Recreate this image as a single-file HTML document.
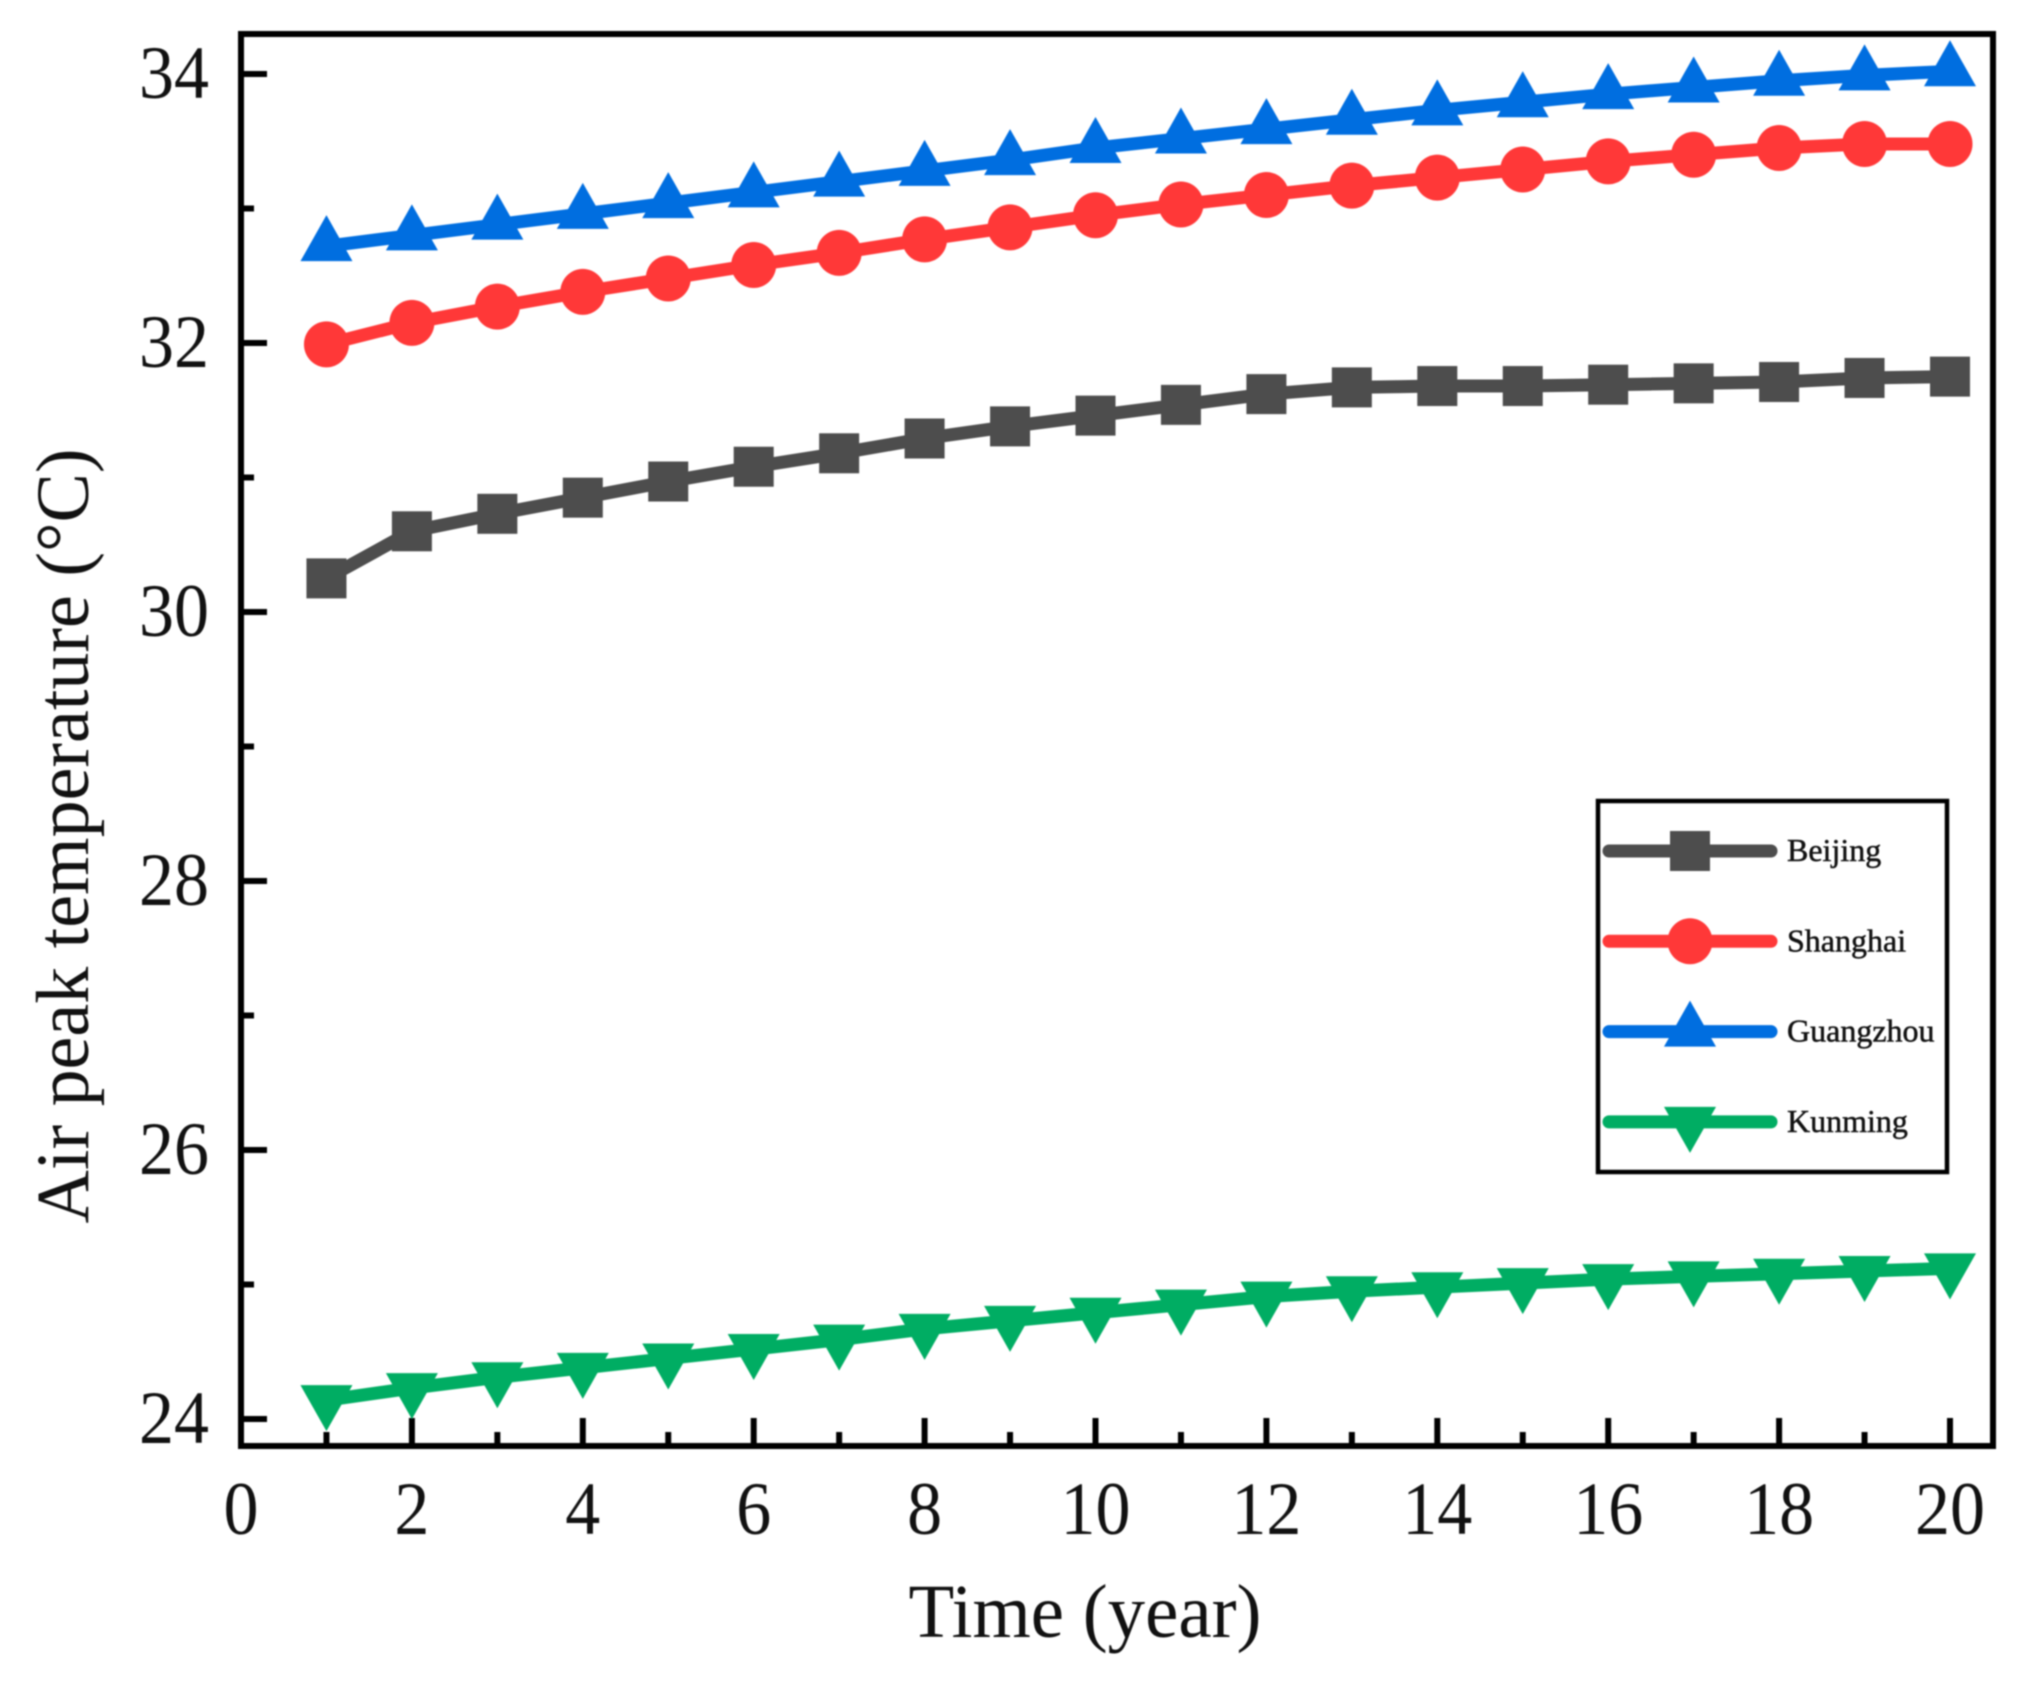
<!DOCTYPE html>
<html lang="en">
<head>
<meta charset="utf-8">
<title>Air peak temperature over time</title>
<style>
  html, body { margin: 0; padding: 0; background: #fff; }
  body { width: 2025px; height: 1682px; overflow: hidden; }
  svg { display: block; filter: blur(0.8px); }
  text { font-family: "Liberation Serif", serif; fill: #111; }
</style>
</head>
<body>
<svg id="chart" xmlns="http://www.w3.org/2000/svg" width="2025" height="1682" viewBox="0 0 2025 1682">
  <rect x="0" y="0" width="2025" height="1682" fill="#fff"/>
  <g id="ticks"></g>
  <g id="tick-labels"></g>
  <text transform="translate(88 836) rotate(-90)" text-anchor="middle" font-size="75" textLength="775" lengthAdjust="spacingAndGlyphs">Air peak temperature (°C)</text>
  <text x="1085" y="1637" text-anchor="middle" font-size="76" textLength="353" lengthAdjust="spacingAndGlyphs">Time (year)</text>
  <g id="series"></g>
  <rect x="241" y="34" width="1752" height="1412" fill="none" stroke="#000" stroke-width="6"/>
  <rect x="1598" y="801" width="349" height="371" fill="#fff" stroke="#000" stroke-width="4.5"/>
  <g id="legend"></g>
</svg>
<script>
const years = [1,2,3,4,5,6,7,8,9,10,11,12,13,14,15,16,17,18,19,20];
const beijing = [30.25,30.6,30.73,30.85,30.97,31.08,31.18,31.29,31.38,31.46,31.54,31.62,31.67,31.68,31.68,31.69,31.7,31.71,31.74,31.75];
const shanghai = [31.99,32.15,32.27,32.38,32.48,32.58,32.67,32.77,32.86,32.95,33.03,33.1,33.17,33.23,33.29,33.35,33.4,33.45,33.48,33.48];
const guangzhou = [32.72,32.8,32.88,32.96,33.04,33.12,33.2,33.28,33.36,33.45,33.52,33.59,33.66,33.73,33.79,33.85,33.9,33.95,33.99,34.02];
const kunming = [24.14,24.23,24.31,24.38,24.45,24.52,24.59,24.67,24.73,24.79,24.85,24.91,24.95,24.98,25.01,25.04,25.06,25.08,25.1,25.12];
const seriesNames = ['Beijing','Shanghai','Guangzhou','Kunming'];
const xMajorTicks = [0,2,4,6,8,10,12,14,16,18,20];
const xMinorTicks = [1,3,5,7,9,11,13,15,17,19];
const yMajorTicks = [24,26,28,30,32,34];
const yMinorTicks = [25,27,29,31,33];

const NS = 'http://www.w3.org/2000/svg';
const xAxis = v => 241 + (v - 0) * 85.45;
const yAxis = v => 1419 - (v - 24) * 134.5;

const seriesValues = [beijing, shanghai, guangzhou, kunming];
const seriesColors = ['#4d4d4d', '#ff3838', '#006ee0', '#00ad63'];
const seriesShapes = ['square', 'circle', 'up', 'down'];

function node(tag, attrs) {
  const el = document.createElementNS(NS, tag);
  for (const k in attrs) el.setAttribute(k, attrs[k]);
  return el;
}

function marker(shape, cx, cy, color) {
  let el;
  if (shape === 'square') {
    el = node('rect', { x: cx - 20, y: cy - 20, width: 40, height: 40, fill: color });
  } else if (shape === 'circle') {
    el = node('ellipse', { cx: cx, cy: cy, rx: 22.5, ry: 23, fill: color });
  } else if (shape === 'up') {
    el = node('polygon', { points: `${cx},${cy - 31} ${cx + 26},${cy + 15} ${cx - 26},${cy + 15}`, fill: color });
  } else {
    el = node('polygon', { points: `${cx},${cy + 31} ${cx + 26},${cy - 15} ${cx - 26},${cy - 15}`, fill: color });
  }
  return el;
}

const tickGroup = document.getElementById('ticks');
const labelGroup = document.getElementById('tick-labels');

xMajorTicks.forEach(v => {
  const t = node('line', { x1: xAxis(v), x2: xAxis(v), y1: 1446, y2: 1418, stroke: '#000', 'stroke-width': 6 });
  
  
  tickGroup.appendChild(t);
  const l = node('text', { transform: `translate(${xAxis(v)} 1534) scale(1 1.07)`, 'text-anchor': 'middle', 'font-size': 70 });
  l.textContent = String(v);
  
  
  labelGroup.appendChild(l);
});
xMinorTicks.forEach(v => {
  const t = node('line', { x1: xAxis(v), x2: xAxis(v), y1: 1446, y2: 1432, stroke: '#000', 'stroke-width': 6 });
  
  
  tickGroup.appendChild(t);
});
yMajorTicks.forEach(v => {
  const t = node('line', { x1: 241, x2: 267, y1: yAxis(v), y2: yAxis(v), stroke: '#000', 'stroke-width': 6 });
  
  
  tickGroup.appendChild(t);
  const l = node('text', { transform: `translate(209 ${yAxis(v) + 24}) scale(1 1.07)`, 'text-anchor': 'end', 'font-size': 70 });
  l.textContent = String(v);
  
  
  labelGroup.appendChild(l);
});
yMinorTicks.forEach(v => {
  const t = node('line', { x1: 241, x2: 254, y1: yAxis(v), y2: yAxis(v), stroke: '#000', 'stroke-width': 6 });
  
  
  tickGroup.appendChild(t);
});

const seriesGroup = document.getElementById('series');
seriesNames.forEach((name, s) => {
  const g = node('g', {});
  
  
  const pts = seriesValues[s].map((v, i) => xAxis(years[i]) + ',' + yAxis(v)).join(' ');
  const line = node('polyline', { points: pts, fill: 'none', stroke: seriesColors[s], 'stroke-width': 13, 'stroke-linejoin': 'round' });
  
  
  g.appendChild(line);
  seriesValues[s].forEach((v, i) => {
    const m = marker(seriesShapes[s], xAxis(years[i]), yAxis(v), seriesColors[s]);
    
    
    g.appendChild(m);
  });
  seriesGroup.appendChild(g);
});

const legendGroup = document.getElementById('legend');
const legendRowY = row => 851 + row * 90.3;
seriesNames.forEach((name, s) => {
  const y = legendRowY(s);
  const g = node('g', {});
  
  
  const line = node('line', { x1: 1609, x2: 1771, y1: y, y2: y, stroke: seriesColors[s], 'stroke-width': 13, 'stroke-linecap': 'round' });
  
  
  g.appendChild(line);
  const m = marker(seriesShapes[s], 1690, y, seriesColors[s]);
  
  
  g.appendChild(m);
  const t = node('text', { x: 1787, y: y + 10, 'font-size': 32, stroke: '#111', 'stroke-width': 0.5 });
  t.textContent = name;
  
  
  g.appendChild(t);
  legendGroup.appendChild(g);
});
</script>
</body>
</html>
